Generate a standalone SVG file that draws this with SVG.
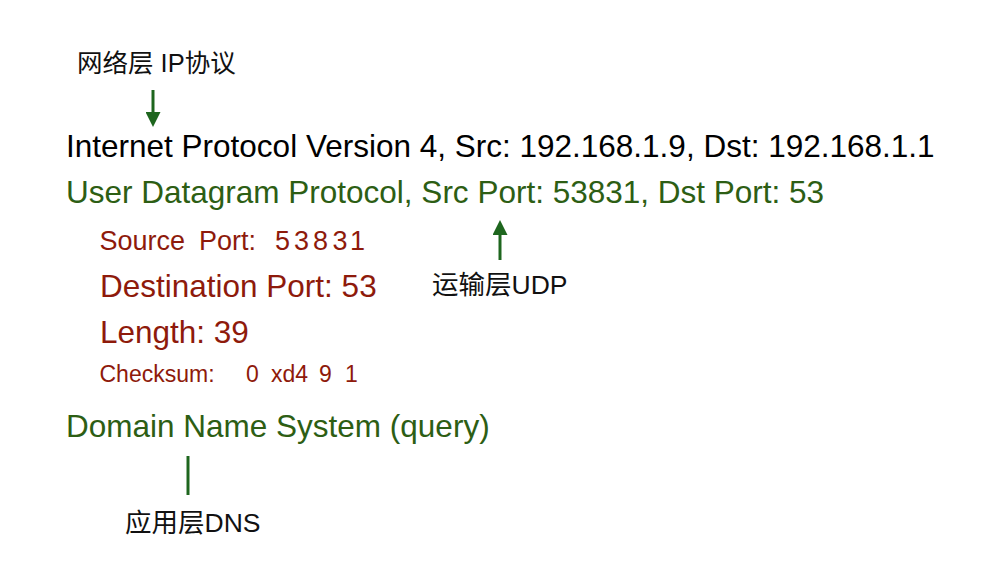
<svg xmlns="http://www.w3.org/2000/svg" width="992" height="579" viewBox="0 0 992 579">
<style>
text{font-family:"Liberation Sans","Noto Sans CJK SC",Arial,sans-serif}
.big{font-size:31.5px}
.blk{fill:#000}
.grn{fill:#2d5e14}
.red{fill:#8e1a0b}
.lbl{font-size:25.5px;fill:#111}
.lbl2{font-size:26.5px;fill:#111}
.conn{stroke:#1e661e;stroke-width:3;fill:none}
</style>
<defs>
<marker id="ah" markerUnits="userSpaceOnUse" markerWidth="15" markerHeight="15" refX="0" refY="7.5" orient="auto">
<path d="M0,0 L15,7.5 L0,15 z" fill="#1e661e"/>
</marker>
</defs>
<rect width="992" height="579" fill="#fff"/>
<g id="connectors">
<line class="conn" x1="153" y1="90" x2="153" y2="112" marker-end="url(#ah)"/>
<line class="conn" x1="500" y1="260" x2="500" y2="235" marker-end="url(#ah)"/>
<line class="conn" x1="188" y1="456" x2="188" y2="495"/>
</g>
<g id="label-ip"><text class="lbl" x="77" y="72">网络层 IP协议</text></g>
<g id="ipv4"><text class="big blk" x="66" y="157">Internet Protocol Version 4, Src: 192.168.1.9, Dst: 192.168.1.1</text></g>
<g id="udp"><text class="big grn" x="66" y="203">User Datagram Protocol, Src Port: 53831, Dst Port: 53</text></g>
<g id="srcport"><text class="red" style="font-size:27px" y="250"><tspan x="99.5">Source</tspan><tspan x="199">Port:</tspan><tspan x="275 294 313 332.5 350">53831</tspan></text></g>
<g id="label-udp"><text class="lbl2" x="432" y="294">运输层UDP</text></g>
<g id="dstport"><text class="big red" x="100" y="297">Destination Port: 53</text></g>
<g id="length"><text class="big red" x="100" y="343">Length: 39</text></g>
<g id="checksum"><text class="red" style="font-size:23px" y="382"><tspan x="99.5">Checksum:</tspan><tspan x="246">0</tspan><tspan x="271">xd4</tspan><tspan x="319">9</tspan><tspan x="345">1</tspan></text></g>
<g id="dns"><text class="big grn" x="66" y="437">Domain Name System (query)</text></g>
<g id="label-dns"><text class="lbl2" x="125" y="532">应用层DNS</text></g>
</svg>
